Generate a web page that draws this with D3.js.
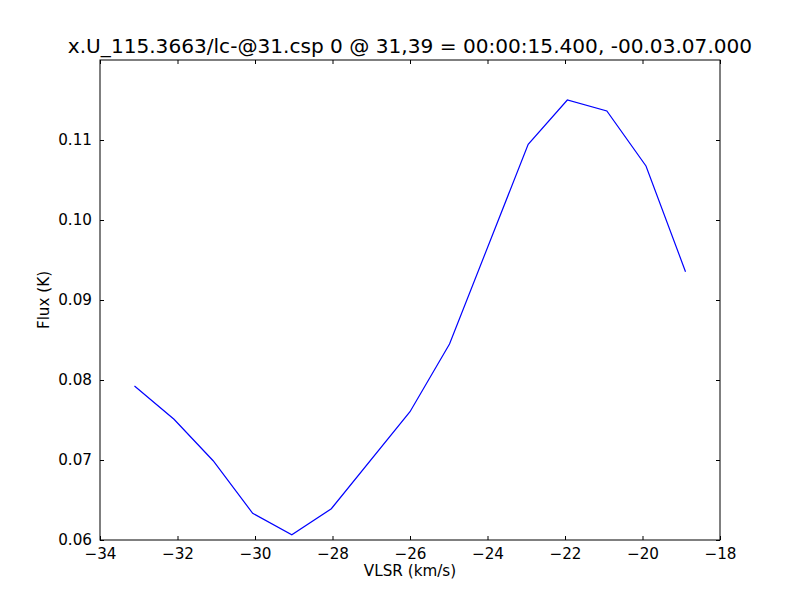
<!DOCTYPE html>
<html><head><meta charset="utf-8">
<script src="https://cdn.jsdelivr.net/npm/d3@7"></script>
<style>body{margin:0;background:#fff}svg{display:block}text{font-family:"DejaVu Sans",sans-serif}</style>
</head><body>
<svg id="c" width="800" height="600"></svg>
<script>
const vlsr = [-33.11, -32.09, -31.08, -30.06, -29.05, -28.03, -26.00, -24.98, -22.95, -21.94, -20.92, -19.91, -18.89];
const flux = [0.07925, 0.07509, 0.06991, 0.06334, 0.06066, 0.06391, 0.07604, 0.0845, 0.10946, 0.1150, 0.11363, 0.10675, 0.09354];
const xTicks = [-34, -32, -30, -28, -26, -24, -22, -20, -18];
const yTicks = [0.06, 0.07, 0.08, 0.09, 0.10, 0.11];
const title = "x.U_115.3663/lc-@31.csp 0 @ 31,39 = 00:00:15.400, -00.03.07.000";

const L = 100, R = 720, T = 60, B = 540;
const svg = d3.select("#c");
const x = d3.scaleLinear().domain([-34, -18]).range([L, R]);
const y = d3.scaleLinear().domain([0.06, 0.12]).range([B, T]);
const fmtX = d => (d < 0 ? "\u2212" : "") + Math.abs(d);
const fmtY = d => d.toFixed(2);

const ax = (g, axis) => { g.call(axis); g.select(".domain").remove(); g.selectAll("line").attr("stroke", "#000"); };
svg.append("g").attr("transform", `translate(0,${B})`)
  .call(g => ax(g, d3.axisBottom(x).tickValues(xTicks).tickSize(-4).tickPadding(8).tickFormat(fmtX)))
  .selectAll("text").attr("font-size", 15.2).attr("fill", "#000");
svg.append("g").attr("transform", `translate(0,${T})`)
  .call(g => ax(g, d3.axisTop(x).tickValues(xTicks).tickSize(-4).tickFormat("")));
svg.append("g").attr("transform", `translate(${L},0)`)
  .call(g => ax(g, d3.axisLeft(y).tickValues(yTicks).tickSize(-4).tickPadding(8).tickFormat(fmtY)))
  .selectAll("text").attr("font-size", 15.2).attr("fill", "#000");
svg.append("g").attr("transform", `translate(${R},0)`)
  .call(g => ax(g, d3.axisRight(y).tickValues(yTicks).tickSize(-4).tickFormat("")));

svg.append("path").datum(vlsr.map((v, i) => [v, flux[i]]))
  .attr("fill", "none").attr("stroke", "#0000ff").attr("stroke-width", 1.2)
  .attr("d", d3.line().x(d => x(d[0])).y(d => y(d[1])));

svg.append("rect").attr("x", L).attr("y", T).attr("width", R - L).attr("height", B - T)
  .attr("fill", "none").attr("stroke", "#000").attr("stroke-width", 1);

svg.append("text").attr("x", 410).attr("y", 53).attr("text-anchor", "middle")
  .attr("font-size", 20.1).text(title);
svg.append("text").attr("x", 410).attr("y", 576).attr("text-anchor", "middle")
  .attr("font-size", 15.2).text("VLSR (km/s)");
svg.append("text").attr("transform", "translate(49,300) rotate(-90)").attr("text-anchor", "middle")
  .attr("font-size", 15.2).text("Flux (K)");
</script>
</body></html>
